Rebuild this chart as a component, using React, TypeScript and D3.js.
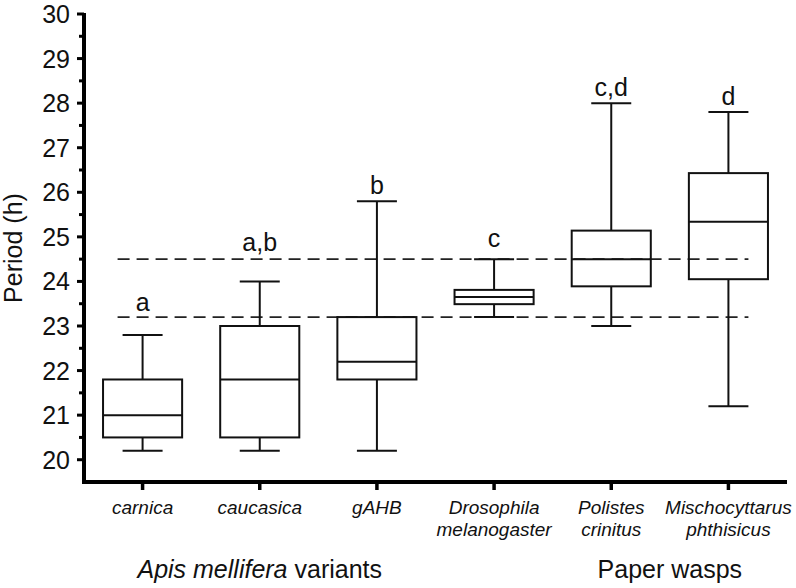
import React from "react";
import * as d3 from "d3";

// categories (two-line labels) and box stats
const categories = ["carnica", "caucasica", "gAHB", "Drosophila", "Polistes", "Mischocyttarus"];
const labelLines = [
  ["carnica"],
  ["caucasica"],
  ["gAHB"],
  ["Drosophila", "melanogaster"],
  ["Polistes", "crinitus"],
  ["Mischocyttarus", "phthisicus"],
];
const whiskerLow = [20.2, 20.2, 20.2, 23.2, 23.0, 21.2];
const q1 = [20.5, 20.5, 21.8, 23.49, 23.89, 24.05];
const median = [21.0, 21.8, 22.2, 23.65, 24.5, 25.34];
const q3 = [21.8, 23.0, 23.2, 23.81, 25.14, 26.43];
const whiskerHigh = [22.8, 24.0, 25.8, 24.5, 28.0, 27.8];
const letters = ["a", "a,b", "b", "c", "c,d", "d"];
const letterY = [23.34, 24.69, 25.96, 24.78, 28.16, 27.96];

const refLines = [24.5, 23.2];
const majorTicks = [20, 21, 22, 23, 24, 25, 26, 27, 28, 29, 30];
const minorTicks = [20.5, 21.5, 22.5, 23.5, 24.5, 25.5, 26.5, 27.5, 28.5, 29.5];

const groups = [
  { from: 0, to: 2, parts: [{ t: "Apis mellifera", it: true }, { t: " variants", it: false }] },
  { from: 4, to: 5, parts: [{ t: "Paper wasps", it: false }] },
];

const W = 796;
const H = 588;
const font = "'Liberation Sans', Arial, Helvetica, sans-serif";

export default function App() {
  const left = 84;
  const right = 787;
  const bottom = 482;
  const top = 14;

  const x = d3.scaleBand<string>().domain(categories).range([left, right]).padding(0);
  const y = d3.scaleLinear().domain([19.5, 30]).range([bottom, top]);
  const cx = (i: number) => (x(categories[i]) as number) + x.bandwidth() / 2;
  const boxW = x.bandwidth() * 0.675;
  const capW = 40;

  return (
    <svg
      width={W}
      height={H}
      style={{ position: "absolute", left: 0, top: 0, background: "#fff" }}
      fontFamily={font}
    >
      {/* reference lines */}
      {refLines.map((v) => (
        <line
          key={v}
          x1={cx(0) - 25}
          x2={cx(categories.length - 1) + capW / 2}
          y1={y(v)}
          y2={y(v)}
          stroke="#222"
          strokeWidth={1.6}
          strokeDasharray="12,7"
        />
      ))}

      {/* boxes */}
      {categories.map((c, i) => {
        const xc = cx(i);
        return (
          <g key={c} stroke="#111" strokeWidth={2} fill="none">
            <line x1={xc} x2={xc} y1={y(whiskerHigh[i])} y2={y(q3[i])} />
            <line x1={xc} x2={xc} y1={y(q1[i])} y2={y(whiskerLow[i])} />
            <line x1={xc - capW / 2} x2={xc + capW / 2} y1={y(whiskerHigh[i])} y2={y(whiskerHigh[i])} />
            <line x1={xc - capW / 2} x2={xc + capW / 2} y1={y(whiskerLow[i])} y2={y(whiskerLow[i])} />
            <rect x={xc - boxW / 2} y={y(q3[i])} width={boxW} height={y(q1[i]) - y(q3[i])} />
            <line x1={xc - boxW / 2} x2={xc + boxW / 2} y1={y(median[i])} y2={y(median[i])} />
            <text
              x={xc}
              y={y(letterY[i])}
              textAnchor="middle"
              fontSize={25}
              fill="#111"
              stroke="none"
            >
              {letters[i]}
            </text>
          </g>
        );
      })}

      {/* y axis */}
      <line x1={left} x2={left} y1={top - 1} y2={bottom} stroke="#000" strokeWidth={4} />
      {majorTicks.map((t) => (
        <g key={t}>
          <line x1={left - 7} x2={left} y1={y(t)} y2={y(t)} stroke="#000" strokeWidth={3} />
          <text x={70} y={y(t)} dy="0.36em" textAnchor="end" fontSize={25} fill="#111">
            {t}
          </text>
        </g>
      ))}
      {minorTicks.map((t) => (
        <line key={t} x1={left - 5} x2={left} y1={y(t)} y2={y(t)} stroke="#000" strokeWidth={3} />
      ))}
      <text
        transform={`translate(22, ${(top + bottom) / 2}) rotate(-90)`}
        textAnchor="middle"
        fontSize={25}
        fill="#111"
      >
        Period (h)
      </text>

      {/* x axis */}
      <line x1={left - 2} x2={right} y1={bottom} y2={bottom} stroke="#000" strokeWidth={4} />
      {categories.map((c, i) => (
        <g key={c}>
          <line x1={cx(i)} x2={cx(i)} y1={bottom} y2={bottom + 8} stroke="#000" strokeWidth={3.5} />
          {labelLines[i].map((ln, j) => (
            <text
              key={j}
              x={cx(i)}
              y={514 + j * 22}
              textAnchor="middle"
              fontSize={19}
              fontStyle="italic"
              fill="#111"
            >
              {ln}
            </text>
          ))}
        </g>
      ))}

      {/* group labels */}
      {groups.map((g, k) => (
        <text
          key={k}
          x={(cx(g.from) + cx(g.to)) / 2}
          y={578}
          textAnchor="middle"
          fontSize={25}
          fill="#111"
        >
          {g.parts.map((p, j) => (
            <tspan key={j} fontStyle={p.it ? "italic" : "normal"}>
              {p.t}
            </tspan>
          ))}
        </text>
      ))}
    </svg>
  );
}
